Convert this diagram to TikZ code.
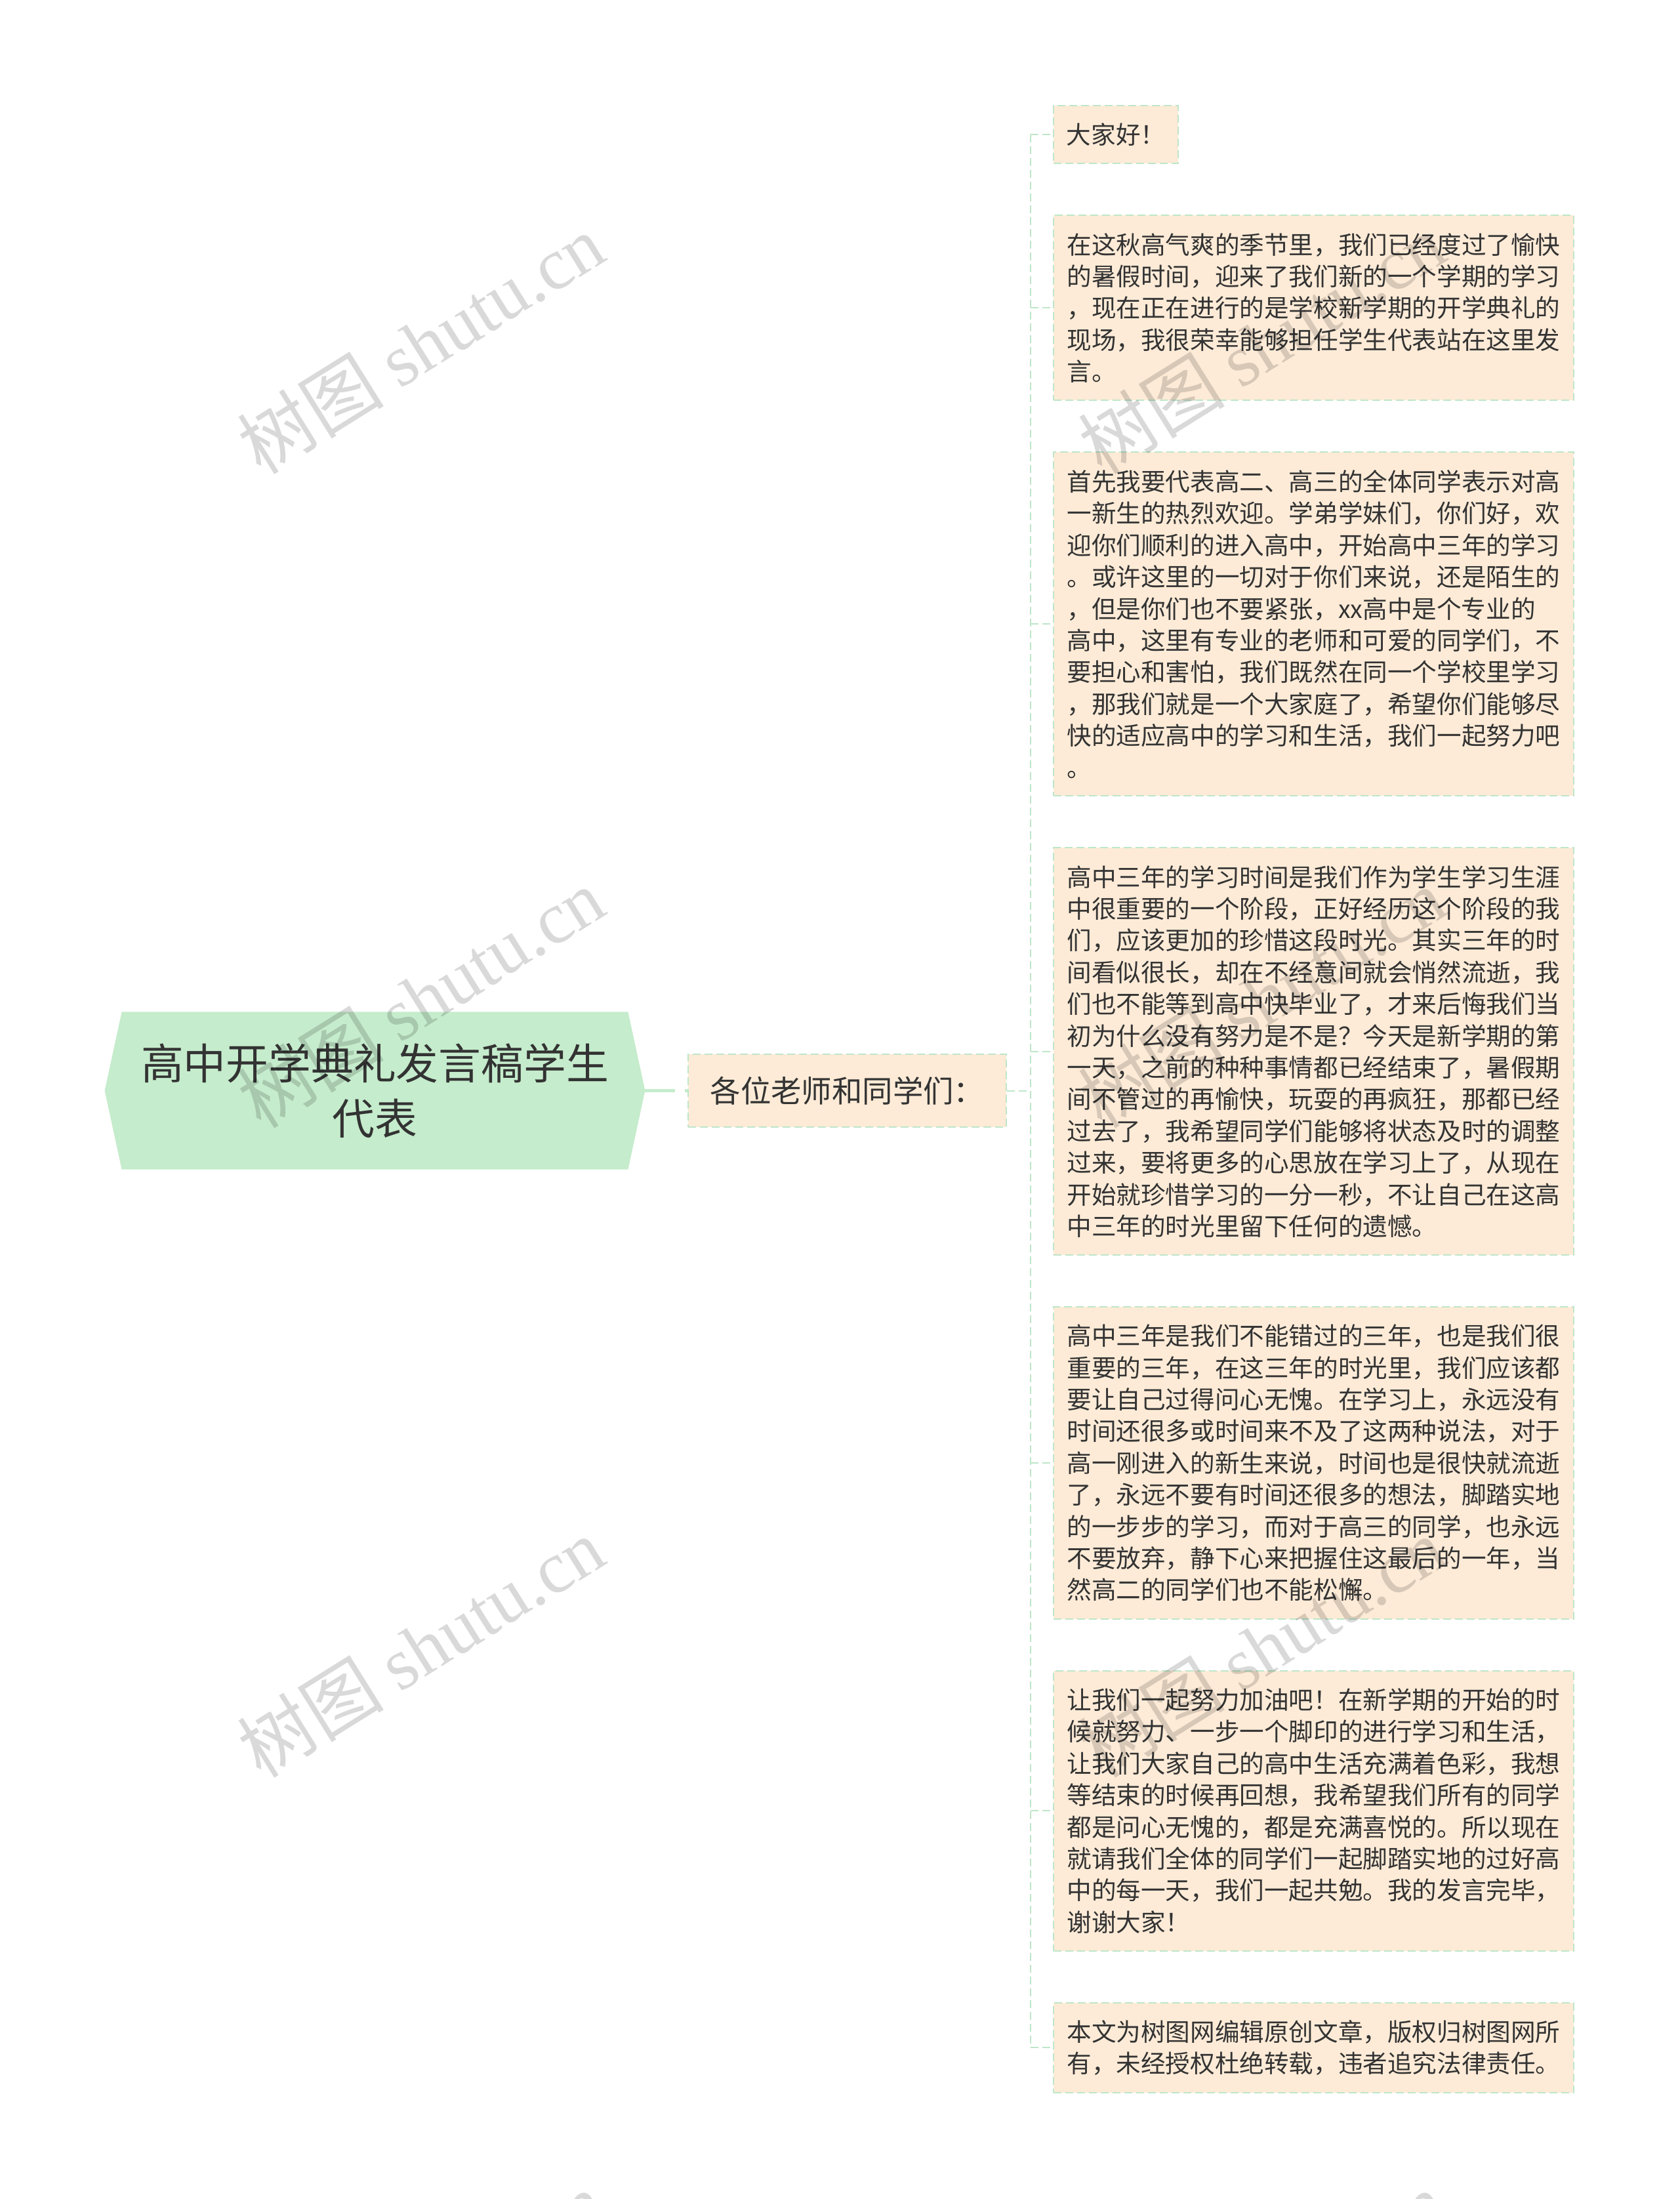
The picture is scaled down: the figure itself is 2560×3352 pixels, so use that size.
\documentclass[tikz,border=0pt]{standalone}
\usepackage{fontspec}
\setmainfont{Noto Sans CJK SC}
\newfontfamily\wmlatin{Liberation Serif}
\usetikzlibrary{backgrounds}
\definecolor{rootg}{HTML}{C5ECCC}
\definecolor{leaff}{HTML}{FDEBD7}
\definecolor{lineg}{HTML}{BEE6C8}
\definecolor{textc}{HTML}{333333}
\tikzset{
  leafbox/.style={draw=lineg, fill=leaff, line width=1pt, dash pattern=on 6pt off 3pt,
    font=\fontsize{18.8pt}{24.2pt}\selectfont, text=textc, align=left,
    inner xsep=0pt, inner ysep=0pt, minimum width=396.5pt, anchor=north west},
  midbox/.style={draw=lineg, fill=leaff, line width=1pt, dash pattern=on 6pt off 3pt,
    font=\fontsize{23.2pt}{28pt}\selectfont, text=textc,
    inner sep=0pt, minimum width=242.5pt, minimum height=55.5pt},
  rootbox/.style={font=\fontsize{32.4pt}{41.7pt}\selectfont, text=textc, align=center,
    inner sep=0pt, minimum width=385.5pt, minimum height=119.75pt},
  dconn/.style={draw=lineg, line width=1pt, dash pattern=on 6pt off 3pt},
  rconn/.style={draw=rootg, line width=2.5pt, dash pattern=on 23pt off 7.5pt},
  wm/.style={font=\fontsize{56pt}{60pt}\selectfont, text=black, text opacity=0.15,
    rotate=32, inner sep=0pt}
}
\begin{document}
\begin{tikzpicture}[x=0.5pt,y=-0.5pt]
\useasboundingbox (0,0) rectangle (2560,3352);

% root
\node[rootbox] (root) at (571.5,1662.5) {高中开学典礼发言稿学生\\代表};
\begin{scope}[on background layer]
\fill[rootg] (root.north west) -- (root.north east) -- ([xshift=13pt]root.east)
  -- (root.south east) -- (root.south west) -- ([xshift=-13pt]root.west) -- cycle;
\end{scope}
\coordinate (rootE) at ([xshift=13pt]root.east);

% middle
\node[midbox] (mid) at (1291.5,1662.5) {各位老师和同学们：};
\draw[rconn] (rootE) -- (mid.west);

% leaves
\node[leafbox, minimum width=95pt, minimum height=44.2pt] (l1) at (1605,160) {大家好！};
\node[leafbox, minimum height=141pt] (l2) at (1605,327.4) {在这秋高气爽的季节里，我们已经度过了愉快\\的暑假时间，迎来了我们新的一个学期的学习\\，现在正在进行的是学校新学期的开学典礼的\\现场，我很荣幸能够担任学生代表站在这里发\\言。};
\node[leafbox, minimum height=262pt] (l3) at (1605,688.4) {首先我要代表高二、高三的全体同学表示对高\\一新生的热烈欢迎。学弟学妹们，你们好，欢\\迎你们顺利的进入高中，开始高中三年的学习\\。或许这里的一切对于你们来说，还是陌生的\\，但是你们也不要紧张，xx高中是个专业的\\高中，这里有专业的老师和可爱的同学们，不\\要担心和害怕，我们既然在同一个学校里学习\\，那我们就是一个大家庭了，希望你们能够尽\\快的适应高中的学习和生活，我们一起努力吧\\。};
\node[leafbox, minimum height=310.4pt] (l4) at (1605,1291.4) {高中三年的学习时间是我们作为学生学习生涯\\中很重要的一个阶段，正好经历这个阶段的我\\们，应该更加的珍惜这段时光。其实三年的时\\间看似很长，却在不经意间就会悄然流逝，我\\们也不能等到高中快毕业了，才来后悔我们当\\初为什么没有努力是不是？今天是新学期的第\\一天，之前的种种事情都已经结束了，暑假期\\间不管过的再愉快，玩耍的再疯狂，那都已经\\过去了，我希望同学们能够将状态及时的调整\\过来，要将更多的心思放在学习上了，从现在\\开始就珍惜学习的一分一秒，不让自己在这高\\中三年的时光里留下任何的遗憾。};
\node[leafbox, minimum height=237.8pt] (l5) at (1605,1991.2) {高中三年是我们不能错过的三年，也是我们很\\重要的三年，在这三年的时光里，我们应该都\\要让自己过得问心无愧。在学习上，永远没有\\时间还很多或时间来不及了这两种说法，对于\\高一刚进入的新生来说，时间也是很快就流逝\\了，永远不要有时间还很多的想法，脚踏实地\\的一步步的学习，而对于高三的同学，也永远\\不要放弃，静下心来把握住这最后的一年，当\\然高二的同学们也不能松懈。};
\node[leafbox, minimum height=213.6pt] (l6) at (1605,2545.8) {让我们一起努力加油吧！在新学期的开始的时\\候就努力、一步一个脚印的进行学习和生活，\\让我们大家自己的高中生活充满着色彩，我想\\等结束的时候再回想，我希望我们所有的同学\\都是问心无愧的，都是充满喜悦的。所以现在\\就请我们全体的同学们一起脚踏实地的过好高\\中的每一天，我们一起共勉。我的发言完毕，\\谢谢大家！};
\node[leafbox, minimum height=68.4pt] (l7) at (1605,3052) {本文为树图网编辑原创文章，版权归树图网所\\有，未经授权杜绝转载，违者追究法律责任。};

% connectors
\coordinate (tj) at (1571,1662.5);
\draw[dconn] (mid.east) -- (tj);
\draw[dconn] (tj |- l1.west) -- (tj |- l7.west);
\foreach \n in {l1,l2,l3,l4,l5,l6,l7} {
  \draw[dconn] (tj |- \n.west) -- (\n.west);
}

% watermarks
\node[wm] (wm1) at (641,524) {树图 {\wmlatin shutu.cn}};
\node[wm] (wm2) at (641,1521) {树图 {\wmlatin shutu.cn}};
\node[wm] (wm3) at (641,2511) {树图 {\wmlatin shutu.cn}};
\node[wm] (wm4) at (1923,524) {树图 {\wmlatin shutu.cn}};
\node[wm] (wm5) at (1923,1521) {树图 {\wmlatin shutu.cn}};
\node[wm] (wm6) at (1923,2511) {树图 {\wmlatin shutu.cn}};
\node[wm] (wm7) at (641,3508) {树图 {\wmlatin shutu.cn}};
\node[wm] (wm8) at (1923,3508) {树图 {\wmlatin shutu.cn}};
\end{tikzpicture}
\end{document}
